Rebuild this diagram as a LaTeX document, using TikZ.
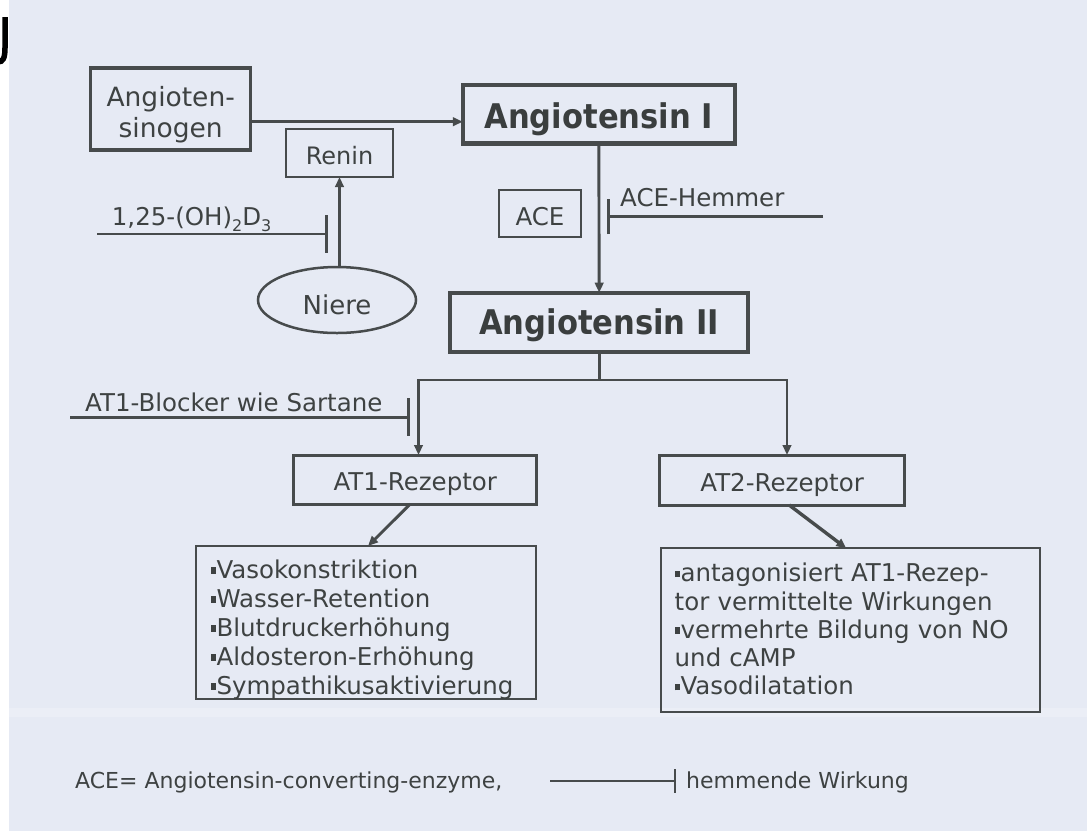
\documentclass[tikz,border=0pt]{standalone}
\usepackage{fontspec}
\setmainfont{DejaVu Sans}
\newfontfamily\headfont{DejaVu Sans}[FakeStretch=0.9]
\usetikzlibrary{arrows.meta,shapes.geometric,calc}
\definecolor{bg}{HTML}{E6EAF4}
\definecolor{ink}{HTML}{474B4C}
\definecolor{txt}{HTML}{3E4242}
\definecolor{head}{HTML}{3A3E3E}
\newcommand\bul{\rule[4.5pt]{5pt}{6.5pt}\kern0.8pt}
\tikzset{
  box/.style={draw=ink, text=txt, inner xsep=0pt, inner ysep=0pt, outer sep=0pt, align=center},
  conn/.style={draw=ink, line width=2.9pt},
  arr/.style={conn, -{Triangle[length=10pt,width=8.5pt]}},
  lab/.style={text=txt, inner sep=0pt, anchor=base west, font=\fontsize{24.5}{29}\selectfont},
  regfont/.style={font=\fontsize{24.5}{29}\selectfont},
  headfnt/.style={font=\headfont\bfseries\fontsize{34}{40}\selectfont, text=head}
}
\begin{document}
\begin{tikzpicture}[x=1pt,y=-1pt]
\useasboundingbox (0,0) rectangle (1087,831);
\fill[white] (0,0) rectangle (1087,831);
\fill[bg] (9,0) rectangle (1087,831);
\fill[white, opacity=0.22] (9,708) rectangle (1087,717);
\draw[black, line width=5.5pt] (5,17) -- (5,48) .. controls (5,58) and (3,62) .. (-2,62);

% boxes
\node[box, line width=3.3pt, minimum width=160pt, font=\fontsize{26.5}{31}\selectfont] (agen) at (170.7,109)
  {\rule{0pt}{38pt}Angioten-\\sinogen\rule[-13pt]{0pt}{13pt}};
\node[box, headfnt, line width=4.3pt, minimum width=272pt, text height=43pt, text depth=15.3pt] (a1) at (598.8,114.2) {Angiotensin I};
\node[box, headfnt, line width=4.3pt, minimum width=298pt, text height=41.3pt, text depth=17.7pt] (a2) at (599.2,322.2) {Angiotensin II};
\node[box, line width=2pt, minimum width=107pt, text height=35pt, text depth=13pt, font=\fontsize{24}{28}\selectfont] (renin) at (339.5,153) {Renin};
\node[box, line width=2pt, minimum width=81.4pt, text height=35.7pt, text depth=11pt, regfont] (ace) at (540,213.3) {ACE};
\node[draw=ink, ellipse, line width=2.5pt, minimum width=158pt, minimum height=66pt, text height=28pt, text depth=0pt, inner sep=0pt, outer sep=0pt, text=txt, font=\fontsize{26}{30}\selectfont] (niere) at (337,300) {Niere};
\node[box, line width=3pt, minimum width=242.7pt, text height=35pt, text depth=14pt, regfont] (at1) at (415.3,479.5) {AT1-Rezeptor};
\node[box, line width=3pt, minimum width=245.2pt, text height=36pt, text depth=14pt, regfont] (at2) at (782.1,480) {AT2-Rezeptor};
\node[box, line width=2pt, anchor=north west, inner xsep=14.7pt, text width=310.6pt, align=left, font=\fontsize{24.5}{29}\selectfont] (e1) at (196,546)
  {\rule{0pt}{32pt}\bul Vasokonstriktion\\\bul Wasser-Retention\\\bul Blutdruckerhöhung\\\bul Aldosteron-Erhöhung\\\bul Sympathikusaktivierung};
\node[box, line width=2pt, anchor=north west, inner xsep=13.7pt, text width=351.2pt, align=left, font=\fontsize{24.5}{28.3}\selectfont] (e2) at (661,548.3)
  {\rule{0pt}{33.4pt}\bul antagonisiert AT1-Rezep-\\tor vermittelte Wirkungen\\\bul vermehrte Bildung von NO\\und cAMP\\\bul Vasodilatation\rule[-16.7pt]{0pt}{16.7pt}};

% connectors
\coordinate (r1) at (0,121.7);
\draw[arr] (agen.east |- r1) -- (a1.west |- r1);
\draw[arr] (niere.north -| renin.south) -- (renin.south);
\coordinate (vdS) at (97,234); \coordinate (vdE) at (328,234);
\draw[conn, -{Bar[width=37.7pt]}] (vdS) -- (vdE);
\draw[arr] (a1.south) -- (a2.north);
\coordinate (hS) at (823,216.7); \coordinate (hE) at (606.7,216.7);
\draw[conn, -{Bar[width=35pt]}] (hS) -- (hE);
\coordinate (bl) at (418.5,380); \coordinate (br) at (787,380);
\draw[conn] (a2.south) -- (a2.south |- bl);
\draw[arr] (a2.south |- bl) -- (bl) -- (bl |- at1.north);
\draw[arr] (a2.south |- br) -- (br) -- (br |- at2.north);
\coordinate (abS) at (70,417.3); \coordinate (abE) at (410,417.3);
\draw[conn, -{Bar[width=38pt]}] (abS) -- (abE);
\draw[arr] ($(at1.south)+(-5,0)$) -- ($(e1.north)+(2,0)$);
\draw[arr, line width=3.4pt] ($(at2.south)+(7,0)$) -- ($(e2.north)+(-4,0)$);

% labels
\node[lab] (vd) at (111.7,225) {1,25-(OH)\raisebox{-6.5pt}{\fontsize{16}{16}\selectfont 2}D\raisebox{-6.5pt}{\fontsize{16}{16}\selectfont 3}};
\node[lab] (hl) at (620,206.7) {ACE-Hemmer};
\node[lab] (abl) at (85,411.7) {AT1-Blocker wie Sartane};

% legend
\node[lab, font=\fontsize{22}{26}\selectfont] (lg1) at (75,788) {ACE= Angiotensin-converting-enzyme,};
\coordinate (lgS) at (550,781); \coordinate (lgE) at (676,781);
\draw[conn, line width=2.2pt, -{Bar[width=24pt]}] (lgS) -- (lgE);
\node[lab, font=\fontsize{22}{26}\selectfont] (lg2) at (686,788) {hemmende Wirkung};
\end{tikzpicture}
\end{document}
